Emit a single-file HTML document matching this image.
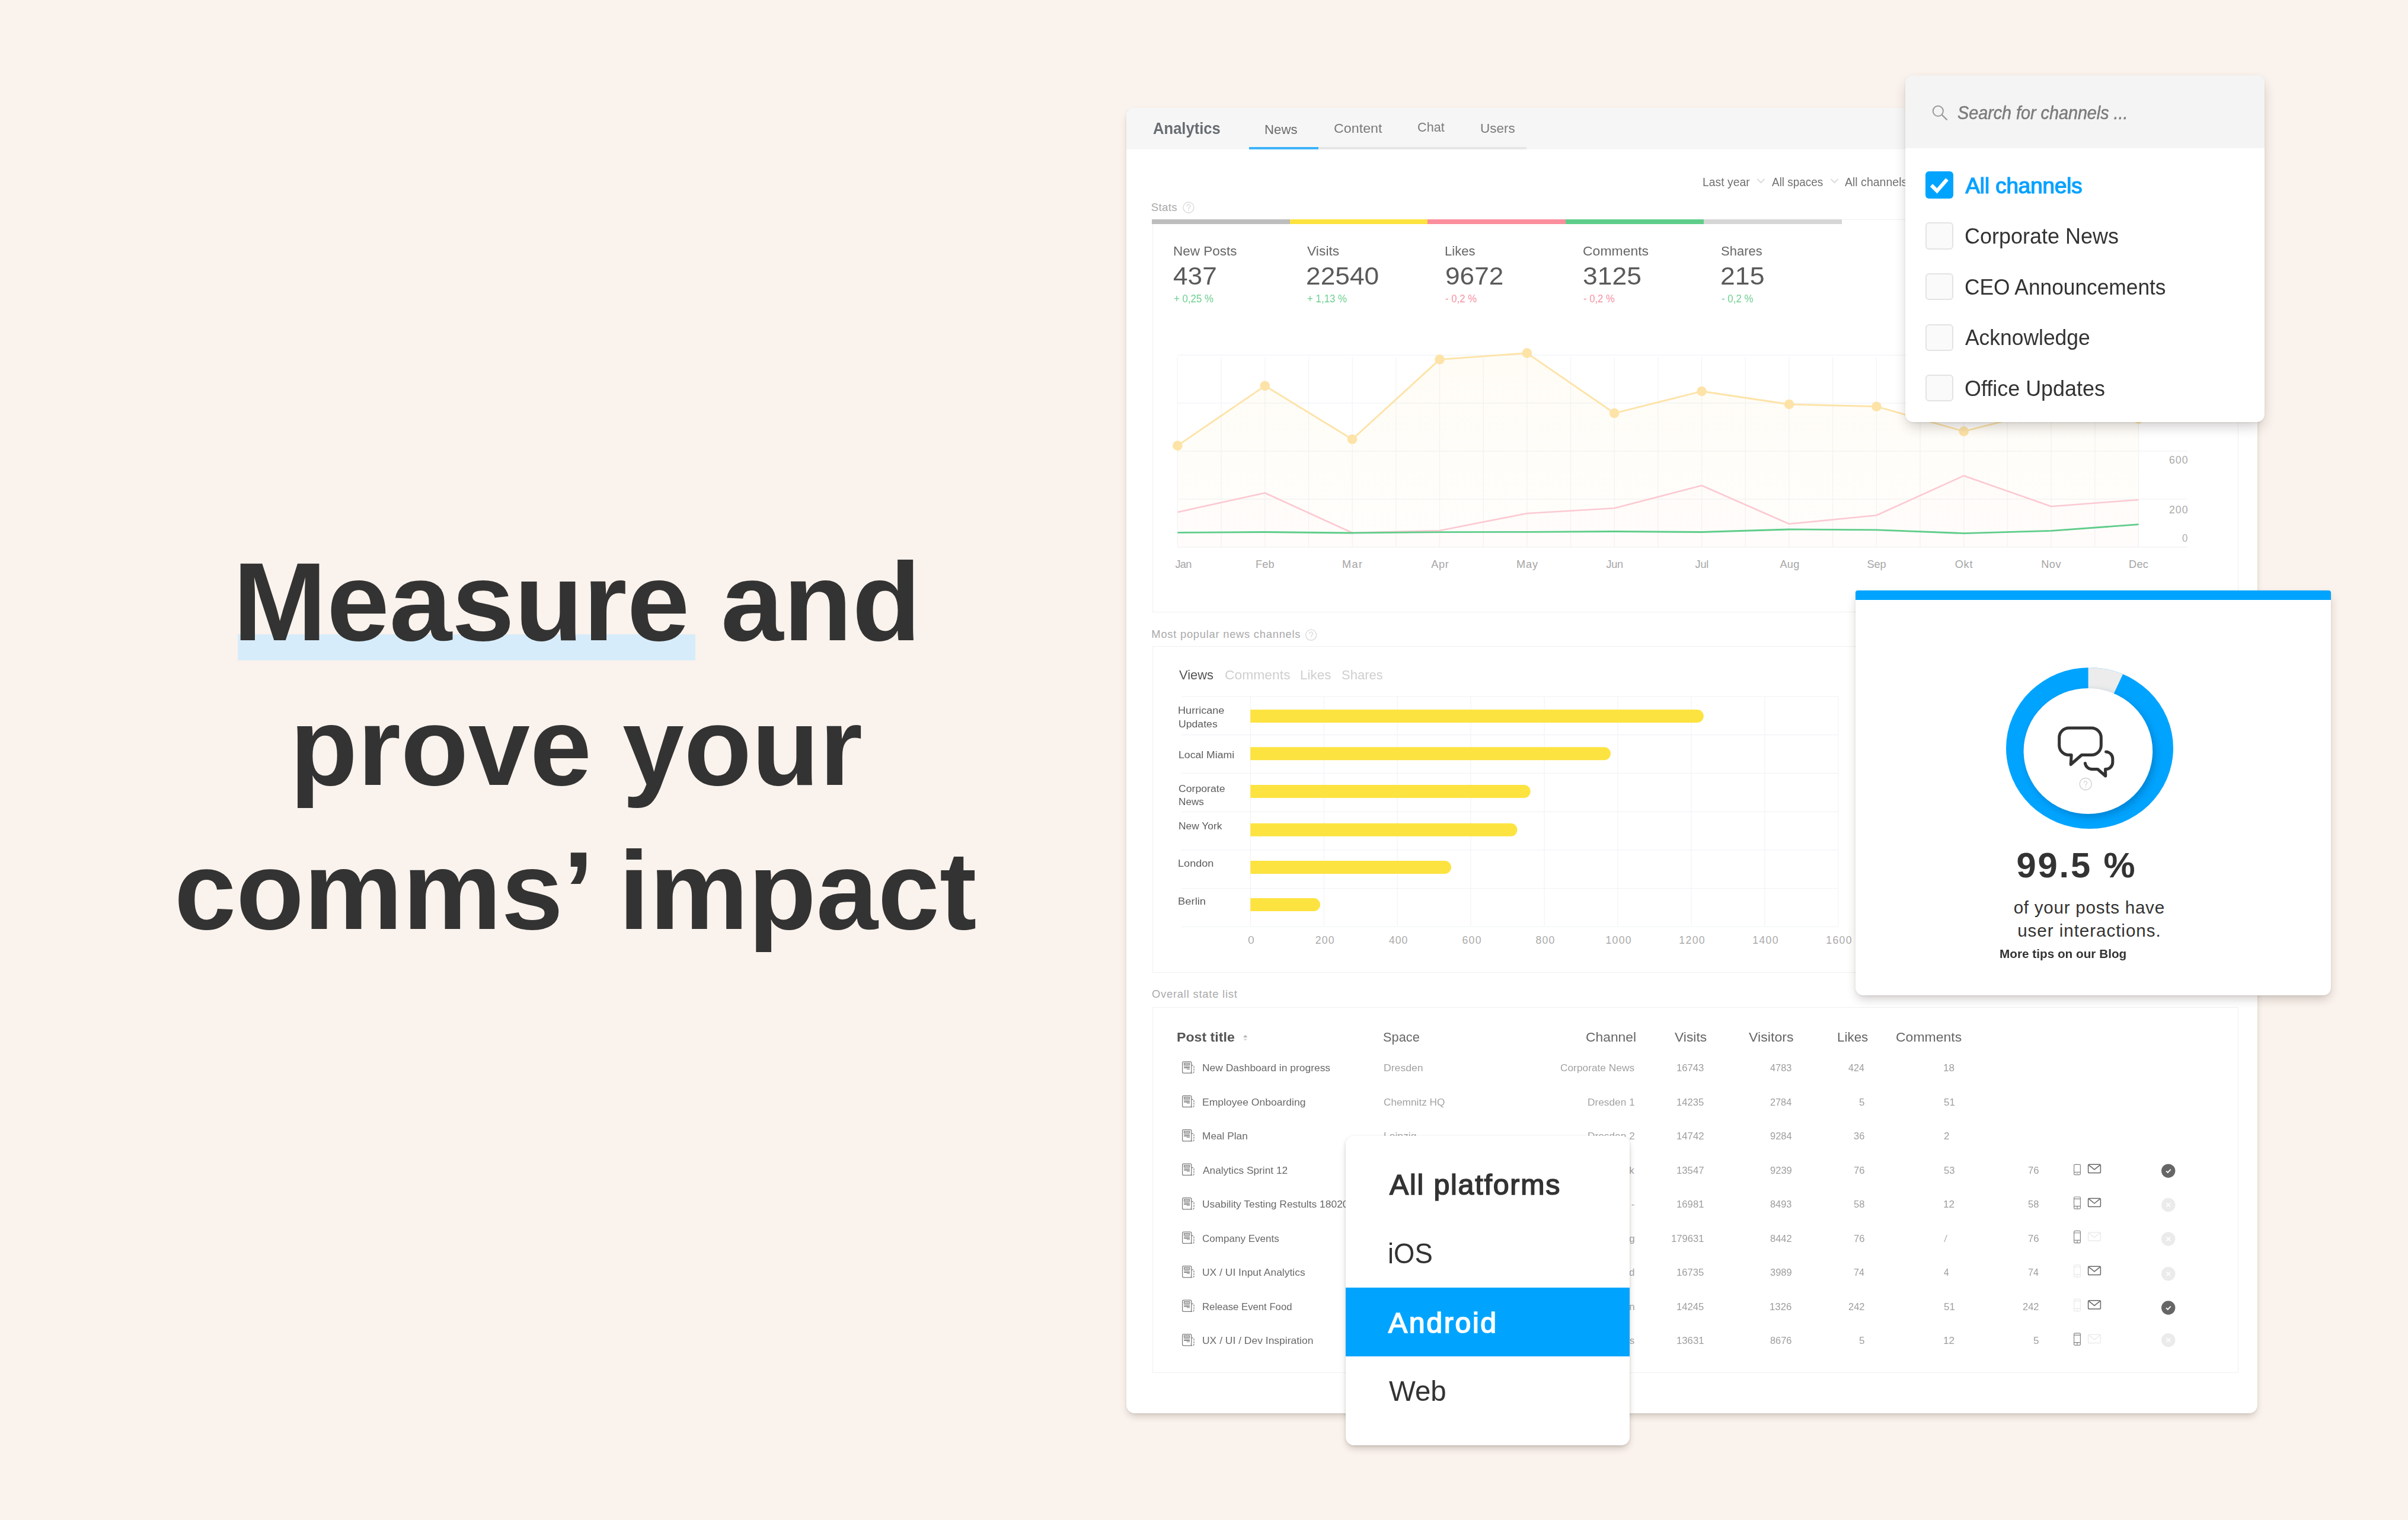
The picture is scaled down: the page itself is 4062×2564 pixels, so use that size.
<!DOCTYPE html>
<html><head><meta charset="utf-8"><title>Analytics</title>
<style>
html,body{margin:0;padding:0;}
body{width:4062px;height:2564px;background:#faf2ec;position:relative;overflow:hidden;font-family:"Liberation Sans",sans-serif;}
.t{position:absolute;white-space:nowrap;line-height:1;transform-origin:0 0;display:block;}
.b{position:absolute;}
.s{position:absolute;left:0;top:0;pointer-events:none;}
.L{position:absolute;left:0;top:0;width:4062px;height:2564px;}
</style></head><body>
<div class="L">
<div class="b" style="left:400.50px;top:1070.40px;width:772.00px;height:43.90px;background:#d7ecfa;"></div>
<span class="t" style="left:393.20px;top:923.00px;font-size:186.84px;color:#333333;transform:scaleX(1.0161);font-weight:700;">Measure and</span><span class="t" style="left:488.84px;top:1167.00px;font-size:186.84px;color:#333333;transform:scaleX(1.0004);font-weight:700;">prove your</span><span class="t" style="left:294.05px;top:1410.00px;font-size:186.84px;color:#333333;transform:scaleX(1.0026);font-weight:700;">comms’ impact</span>
</div>
<div class="L">
<div class="b" style="left:1900.00px;top:182.00px;width:1908.00px;height:2201.50px;background:#fff;border-radius:14px;box-shadow:0 7px 13px -3px rgba(40,30,20,0.22),0 1px 3px rgba(40,30,20,0.08);"></div><div class="b" style="left:1900.00px;top:182.00px;width:1908.00px;height:70.00px;background:#f6f6f6;border-radius:14px 14px 0 0;"></div><div class="b" style="left:2106.60px;top:248.00px;width:468.40px;height:4.00px;background:#e6e6e6;"></div><div class="b" style="left:2106.60px;top:248.00px;width:117.90px;height:4.00px;background:#3db3f8;"></div><div class="b" style="left:1943.50px;top:370.00px;width:1832.00px;height:663.00px;border:1.4px solid #f0f0f0;box-sizing:border-box;"></div><div class="b" style="left:1943.00px;top:370.00px;width:232.70px;height:8.00px;background:#bdbdbd;"></div><div class="b" style="left:2175.70px;top:370.00px;width:232.70px;height:8.00px;background:#fde340;"></div><div class="b" style="left:2408.40px;top:370.00px;width:232.60px;height:8.00px;background:#fb8e9d;"></div><div class="b" style="left:2641.00px;top:370.00px;width:232.80px;height:8.00px;background:#5fcd8a;"></div><div class="b" style="left:2873.80px;top:370.00px;width:233.20px;height:8.00px;background:#d6d6d6;"></div><div class="b" style="left:1943.50px;top:1090.00px;width:1832.00px;height:551.30px;border:1.4px solid #f0f0f0;box-sizing:border-box;"></div><div class="b" style="left:1943.50px;top:1698.50px;width:1832.00px;height:617.50px;border:1.4px solid #f0f0f0;box-sizing:border-box;"></div>
<svg class="s" width="4062" height="2564" viewBox="0 0 4062 2564"><circle cx="2005" cy="350" r="9" fill="none" stroke="#d8d8d8" stroke-width="1.3"/><path d="M2002.40 347.80 a2.7 2.7 0 1 1 3.90 2.20 q-1.3 0.9 -1.3 2.4" transform="" fill="none" stroke="#d8d8d8" stroke-width="1.2" stroke-linecap="round"/><circle cx="2005" cy="354.60" r="0.8" fill="#d8d8d8"/><circle cx="2211.6" cy="1071.2" r="9" fill="none" stroke="#d8d8d8" stroke-width="1.3"/><path d="M2209.00 1069.00 a2.7 2.7 0 1 1 3.90 2.20 q-1.3 0.9 -1.3 2.4" transform="" fill="none" stroke="#d8d8d8" stroke-width="1.2" stroke-linecap="round"/><circle cx="2211.6" cy="1075.80" r="0.8" fill="#d8d8d8"/><path d="M2964.5 302 L2970.5 308 L2976.5 302" fill="none" stroke="#dcdcdc" stroke-width="2"/><path d="M3088.5 302 L3094.5 308 L3100.5 302" fill="none" stroke="#dcdcdc" stroke-width="2"/><line x1="1986.4" y1="599" x2="3689.7" y2="599" stroke="#f3f4f7" stroke-width="1.3"/><line x1="1986.4" y1="680" x2="3689.7" y2="680" stroke="#f3f4f7" stroke-width="1.3"/><line x1="1986.4" y1="761" x2="3689.7" y2="761" stroke="#f3f4f7" stroke-width="1.3"/><line x1="1986.4" y1="842" x2="3689.7" y2="842" stroke="#f3f4f7" stroke-width="1.3"/><line x1="1986.4" y1="923" x2="3689.7" y2="923" stroke="#f3f4f7" stroke-width="1.3"/><line x1="1986.40" y1="603" x2="1986.40" y2="923" stroke="#f3f4f7" stroke-width="1.3"/><line x1="2060.09" y1="603" x2="2060.09" y2="923" stroke="#f3f4f7" stroke-width="1.3"/><line x1="2133.77" y1="603" x2="2133.77" y2="923" stroke="#f3f4f7" stroke-width="1.3"/><line x1="2207.45" y1="603" x2="2207.45" y2="923" stroke="#f3f4f7" stroke-width="1.3"/><line x1="2281.14" y1="603" x2="2281.14" y2="923" stroke="#f3f4f7" stroke-width="1.3"/><line x1="2354.83" y1="603" x2="2354.83" y2="923" stroke="#f3f4f7" stroke-width="1.3"/><line x1="2428.51" y1="603" x2="2428.51" y2="923" stroke="#f3f4f7" stroke-width="1.3"/><line x1="2502.20" y1="603" x2="2502.20" y2="923" stroke="#f3f4f7" stroke-width="1.3"/><line x1="2575.88" y1="603" x2="2575.88" y2="923" stroke="#f3f4f7" stroke-width="1.3"/><line x1="2649.57" y1="603" x2="2649.57" y2="923" stroke="#f3f4f7" stroke-width="1.3"/><line x1="2723.25" y1="603" x2="2723.25" y2="923" stroke="#f3f4f7" stroke-width="1.3"/><line x1="2796.94" y1="603" x2="2796.94" y2="923" stroke="#f3f4f7" stroke-width="1.3"/><line x1="2870.62" y1="603" x2="2870.62" y2="923" stroke="#f3f4f7" stroke-width="1.3"/><line x1="2944.31" y1="603" x2="2944.31" y2="923" stroke="#f3f4f7" stroke-width="1.3"/><line x1="3017.99" y1="603" x2="3017.99" y2="923" stroke="#f3f4f7" stroke-width="1.3"/><line x1="3091.68" y1="603" x2="3091.68" y2="923" stroke="#f3f4f7" stroke-width="1.3"/><line x1="3165.36" y1="603" x2="3165.36" y2="923" stroke="#f3f4f7" stroke-width="1.3"/><line x1="3239.05" y1="603" x2="3239.05" y2="923" stroke="#f3f4f7" stroke-width="1.3"/><line x1="3312.73" y1="603" x2="3312.73" y2="923" stroke="#f3f4f7" stroke-width="1.3"/><line x1="3386.41" y1="603" x2="3386.41" y2="923" stroke="#f3f4f7" stroke-width="1.3"/><line x1="3460.10" y1="603" x2="3460.10" y2="923" stroke="#f3f4f7" stroke-width="1.3"/><line x1="3533.78" y1="603" x2="3533.78" y2="923" stroke="#f3f4f7" stroke-width="1.3"/><line x1="3607.47" y1="603" x2="3607.47" y2="923" stroke="#f3f4f7" stroke-width="1.3"/><defs><linearGradient id="yg" gradientUnits="userSpaceOnUse" x1="0" y1="595" x2="0" y2="923"><stop offset="0" stop-color="#fde3a7" stop-opacity="0.11"/><stop offset="1" stop-color="#fde3a7" stop-opacity="0.035"/></linearGradient></defs><polygon points="1986.4,751.7 2133.8,650.8 2281.1,741 2428.5,606.4 2575.9,595.6 2723.2,697 2870.6,660 3018.0,682 3165.4,685.7 3312.7,727.6 3460.1,690 3607.5,706.5 3607.5,923 1986.4,923" fill="url(#yg)"/><polygon points="1986.4,863.9 2133.8,831.5 2281.1,898.7 2428.5,895 2575.9,866 2723.2,857.2 2870.6,819 3018.0,883.8 3165.4,869.3 3312.7,802.4 3460.1,854.3 3607.5,843 3607.5,923 1986.4,923" fill="#fcc9d1" fill-opacity="0.03"/><polygon points="1986.4,898.3 2133.8,897.5 2281.1,899 2428.5,897.6 2575.9,897.3 2723.2,896.5 2870.6,897.5 3018.0,893 3165.4,893.8 3312.7,899.6 3460.1,895.4 3607.5,884.6 3607.5,923 1986.4,923" fill="#5fcd8a" fill-opacity="0.0"/><polyline points="1986.4,751.7 2133.8,650.8 2281.1,741 2428.5,606.4 2575.9,595.6 2723.2,697 2870.6,660 3018.0,682 3165.4,685.7 3312.7,727.6 3460.1,690 3607.5,706.5" fill="none" stroke="#fde3a7" stroke-width="2.8" stroke-linejoin="round"/><circle cx="1986.4" cy="751.7" r="8.3" fill="#fde3a7"/><circle cx="2133.8" cy="650.8" r="8.3" fill="#fde3a7"/><circle cx="2281.1" cy="741" r="8.3" fill="#fde3a7"/><circle cx="2428.5" cy="606.4" r="8.3" fill="#fde3a7"/><circle cx="2575.9" cy="595.6" r="8.3" fill="#fde3a7"/><circle cx="2723.2" cy="697" r="8.3" fill="#fde3a7"/><circle cx="2870.6" cy="660" r="8.3" fill="#fde3a7"/><circle cx="3018.0" cy="682" r="8.3" fill="#fde3a7"/><circle cx="3165.4" cy="685.7" r="8.3" fill="#fde3a7"/><circle cx="3312.7" cy="727.6" r="8.3" fill="#fde3a7"/><circle cx="3460.1" cy="690" r="8.3" fill="#fde3a7"/><circle cx="3607.5" cy="706.5" r="8.3" fill="#fde3a7"/><polyline points="1986.4,863.9 2133.8,831.5 2281.1,898.7 2428.5,895 2575.9,866 2723.2,857.2 2870.6,819 3018.0,883.8 3165.4,869.3 3312.7,802.4 3460.1,854.3 3607.5,843" fill="none" stroke="#fcc9d1" stroke-width="2.6" stroke-linejoin="round"/><polyline points="1986.4,898.3 2133.8,897.5 2281.1,899 2428.5,897.6 2575.9,897.3 2723.2,896.5 2870.6,897.5 3018.0,893 3165.4,893.8 3312.7,899.6 3460.1,895.4 3607.5,884.6" fill="none" stroke="#5fcd8a" stroke-width="2.8" stroke-linejoin="round"/><line x1="1993" y1="1174.9" x2="3101" y2="1174.9" stroke="#f3f4f7" stroke-width="1.3"/><line x1="1993" y1="1239.5" x2="3101" y2="1239.5" stroke="#f3f4f7" stroke-width="1.3"/><line x1="1993" y1="1304.4" x2="3101" y2="1304.4" stroke="#f3f4f7" stroke-width="1.3"/><line x1="1993" y1="1369.2" x2="3101" y2="1369.2" stroke="#f3f4f7" stroke-width="1.3"/><line x1="1993" y1="1433.8" x2="3101" y2="1433.8" stroke="#f3f4f7" stroke-width="1.3"/><line x1="1993" y1="1498.6" x2="3101" y2="1498.6" stroke="#f3f4f7" stroke-width="1.3"/><line x1="1993" y1="1563.4" x2="3101" y2="1563.4" stroke="#f3f4f7" stroke-width="1.3"/><line x1="2109.30" y1="1174.9" x2="2109.30" y2="1562" stroke="#f3f4f7" stroke-width="1.3"/><line x1="2233.25" y1="1174.9" x2="2233.25" y2="1562" stroke="#f3f4f7" stroke-width="1.3"/><line x1="2357.20" y1="1174.9" x2="2357.20" y2="1562" stroke="#f3f4f7" stroke-width="1.3"/><line x1="2481.15" y1="1174.9" x2="2481.15" y2="1562" stroke="#f3f4f7" stroke-width="1.3"/><line x1="2605.10" y1="1174.9" x2="2605.10" y2="1562" stroke="#f3f4f7" stroke-width="1.3"/><line x1="2729.05" y1="1174.9" x2="2729.05" y2="1562" stroke="#f3f4f7" stroke-width="1.3"/><line x1="2853.00" y1="1174.9" x2="2853.00" y2="1562" stroke="#f3f4f7" stroke-width="1.3"/><line x1="2976.95" y1="1174.9" x2="2976.95" y2="1562" stroke="#f3f4f7" stroke-width="1.3"/><line x1="3100.90" y1="1174.9" x2="3100.90" y2="1562" stroke="#f3f4f7" stroke-width="1.3"/><path d="M2109.3 1197 H2862.8 a11 11 0 0 1 0 22 H2109.3 Z" fill="#fde340"/><path d="M2109.3 1260.3 H2706 a11 11 0 0 1 0 22 H2109.3 Z" fill="#fde340"/><path d="M2109.3 1324 H2570.7 a11 11 0 0 1 0 22 H2109.3 Z" fill="#fde340"/><path d="M2109.3 1388.8 H2548.5 a11 11 0 0 1 0 22 H2109.3 Z" fill="#fde340"/><path d="M2109.3 1452 H2437 a11 11 0 0 1 0 22 H2109.3 Z" fill="#fde340"/><path d="M2109.3 1515 H2216 a11 11 0 0 1 0 22 H2109.3 Z" fill="#fde340"/><path d="M2097 1749.8 L2100.7 1746 L2104.4 1749.8 Z" fill="#a9a9a9"/><path d="M2097 1752 L2100.7 1755.8 L2104.4 1752 Z" fill="#dddddd"/><g fill="none" stroke="#7d7d7d" stroke-width="1.25"><rect x="1994.6" y="1790.80" width="15.2" height="19.2" rx="2"/><path d="M2009.8 1797.10 h2.2 a2 2 0 0 1 2 2 v8.9 a2 2 0 0 1 -2 2 h-3" stroke-dasharray="3 1.4"/><rect x="1997.4" y="1793.20" width="9.4" height="3.2" fill="#cfcfcf" stroke-width="1"/><path d="M1997.2 1798.50 h9.8" stroke-width="1"/><path d="M1997.2 1801.10 h9.8" stroke-width="1.9"/><path d="M2001.8 1803.50 h5.2" stroke-width="1"/></g><g fill="none" stroke="#7d7d7d" stroke-width="1.25"><rect x="1994.6" y="1848.27" width="15.2" height="19.2" rx="2"/><path d="M2009.8 1854.57 h2.2 a2 2 0 0 1 2 2 v8.9 a2 2 0 0 1 -2 2 h-3" stroke-dasharray="3 1.4"/><rect x="1997.4" y="1850.67" width="9.4" height="3.2" fill="#cfcfcf" stroke-width="1"/><path d="M1997.2 1855.97 h9.8" stroke-width="1"/><path d="M1997.2 1858.57 h9.8" stroke-width="1.9"/><path d="M2001.8 1860.97 h5.2" stroke-width="1"/></g><g fill="none" stroke="#7d7d7d" stroke-width="1.25"><rect x="1994.6" y="1905.74" width="15.2" height="19.2" rx="2"/><path d="M2009.8 1912.04 h2.2 a2 2 0 0 1 2 2 v8.9 a2 2 0 0 1 -2 2 h-3" stroke-dasharray="3 1.4"/><rect x="1997.4" y="1908.14" width="9.4" height="3.2" fill="#cfcfcf" stroke-width="1"/><path d="M1997.2 1913.44 h9.8" stroke-width="1"/><path d="M1997.2 1916.04 h9.8" stroke-width="1.9"/><path d="M2001.8 1918.44 h5.2" stroke-width="1"/></g><g fill="none" stroke="#7d7d7d" stroke-width="1.25"><rect x="1994.6" y="1963.21" width="15.2" height="19.2" rx="2"/><path d="M2009.8 1969.51 h2.2 a2 2 0 0 1 2 2 v8.9 a2 2 0 0 1 -2 2 h-3" stroke-dasharray="3 1.4"/><rect x="1997.4" y="1965.61" width="9.4" height="3.2" fill="#cfcfcf" stroke-width="1"/><path d="M1997.2 1970.91 h9.8" stroke-width="1"/><path d="M1997.2 1973.51 h9.8" stroke-width="1.9"/><path d="M2001.8 1975.91 h5.2" stroke-width="1"/></g><g fill="none" stroke="#7d7d7d" stroke-width="1.25"><rect x="1994.6" y="2020.68" width="15.2" height="19.2" rx="2"/><path d="M2009.8 2026.98 h2.2 a2 2 0 0 1 2 2 v8.9 a2 2 0 0 1 -2 2 h-3" stroke-dasharray="3 1.4"/><rect x="1997.4" y="2023.08" width="9.4" height="3.2" fill="#cfcfcf" stroke-width="1"/><path d="M1997.2 2028.38 h9.8" stroke-width="1"/><path d="M1997.2 2030.98 h9.8" stroke-width="1.9"/><path d="M2001.8 2033.38 h5.2" stroke-width="1"/></g><g fill="none" stroke="#7d7d7d" stroke-width="1.25"><rect x="1994.6" y="2078.15" width="15.2" height="19.2" rx="2"/><path d="M2009.8 2084.45 h2.2 a2 2 0 0 1 2 2 v8.9 a2 2 0 0 1 -2 2 h-3" stroke-dasharray="3 1.4"/><rect x="1997.4" y="2080.55" width="9.4" height="3.2" fill="#cfcfcf" stroke-width="1"/><path d="M1997.2 2085.85 h9.8" stroke-width="1"/><path d="M1997.2 2088.45 h9.8" stroke-width="1.9"/><path d="M2001.8 2090.85 h5.2" stroke-width="1"/></g><g fill="none" stroke="#7d7d7d" stroke-width="1.25"><rect x="1994.6" y="2135.62" width="15.2" height="19.2" rx="2"/><path d="M2009.8 2141.92 h2.2 a2 2 0 0 1 2 2 v8.9 a2 2 0 0 1 -2 2 h-3" stroke-dasharray="3 1.4"/><rect x="1997.4" y="2138.02" width="9.4" height="3.2" fill="#cfcfcf" stroke-width="1"/><path d="M1997.2 2143.32 h9.8" stroke-width="1"/><path d="M1997.2 2145.92 h9.8" stroke-width="1.9"/><path d="M2001.8 2148.32 h5.2" stroke-width="1"/></g><g fill="none" stroke="#7d7d7d" stroke-width="1.25"><rect x="1994.6" y="2193.09" width="15.2" height="19.2" rx="2"/><path d="M2009.8 2199.39 h2.2 a2 2 0 0 1 2 2 v8.9 a2 2 0 0 1 -2 2 h-3" stroke-dasharray="3 1.4"/><rect x="1997.4" y="2195.49" width="9.4" height="3.2" fill="#cfcfcf" stroke-width="1"/><path d="M1997.2 2200.79 h9.8" stroke-width="1"/><path d="M1997.2 2203.39 h9.8" stroke-width="1.9"/><path d="M2001.8 2205.79 h5.2" stroke-width="1"/></g><g fill="none" stroke="#7d7d7d" stroke-width="1.25"><rect x="1994.6" y="2250.56" width="15.2" height="19.2" rx="2"/><path d="M2009.8 2256.86 h2.2 a2 2 0 0 1 2 2 v8.9 a2 2 0 0 1 -2 2 h-3" stroke-dasharray="3 1.4"/><rect x="1997.4" y="2252.96" width="9.4" height="3.2" fill="#cfcfcf" stroke-width="1"/><path d="M1997.2 2258.26 h9.8" stroke-width="1"/><path d="M1997.2 2260.86 h9.8" stroke-width="1.9"/><path d="M2001.8 2263.26 h5.2" stroke-width="1"/></g><g fill="none" stroke="#858585" stroke-width="1.2"><rect x="3498.6" y="1964.30" width="10.8" height="17.4" rx="1.6"/><path d="M3498.6 1977.30 h10.8"/><path d="M3503.2 1979.50 h1.6"/></g><g fill="none" stroke="#666666" stroke-width="1.5" stroke-linejoin="round"><rect x="3522.6" y="1964.30" width="20.8" height="14.2" rx="1.8"/><path d="M3523.4 1965.10 L3533 1972.90 L3542.6 1965.10"/></g><circle cx="3657.7" cy="1975.1" r="11.7" fill="#666666"/><path d="M3654.1 1975.3999999999999 L3656.7999999999997 1978.0 L3661.7 1972.6999999999998" fill="none" stroke="#fff" stroke-width="1.9"/><g fill="none" stroke="#858585" stroke-width="1.2"><rect x="3498.6" y="2018.98" width="10.8" height="20.2" rx="1.6"/><path d="M3498.6 2022.28 h10.8 M3498.6 2034.68 h10.8 M3504 2034.88 v3.6"/></g><g fill="none" stroke="#666666" stroke-width="1.5" stroke-linejoin="round"><rect x="3522.6" y="2021.38" width="20.8" height="14.2" rx="1.8"/><path d="M3523.4 2022.18 L3533 2029.98 L3542.6 2022.18"/></g><circle cx="3657.7" cy="2032.4" r="11.7" fill="#ebebeb"/><path d="M3654.2999999999997 2029.0 L3661.1 2035.8000000000002 M3661.1 2029.0 L3654.2999999999997 2035.8000000000002" fill="none" stroke="#fff" stroke-width="1.6"/><g fill="none" stroke="#858585" stroke-width="1.2"><rect x="3498.6" y="2076.45" width="10.8" height="20.2" rx="1.6"/><path d="M3498.6 2079.75 h10.8 M3498.6 2092.15 h10.8 M3504 2092.35 v3.6"/></g><g fill="none" stroke="#ececec" stroke-width="1.5" stroke-linejoin="round"><rect x="3522.6" y="2078.85" width="20.8" height="14.2" rx="1.8"/><path d="M3523.4 2079.65 L3533 2087.45 L3542.6 2079.65"/></g><circle cx="3657.7" cy="2090" r="11.7" fill="#ebebeb"/><path d="M3654.2999999999997 2086.6 L3661.1 2093.4 M3661.1 2086.6 L3654.2999999999997 2093.4" fill="none" stroke="#fff" stroke-width="1.6"/><g fill="none" stroke="#e9e9e9" stroke-width="1.2"><rect x="3498.6" y="2133.92" width="10.8" height="20.2" rx="1.6"/><path d="M3498.6 2137.22 h10.8 M3498.6 2149.62 h10.8 M3504 2149.82 v3.6"/></g><g fill="none" stroke="#666666" stroke-width="1.5" stroke-linejoin="round"><rect x="3522.6" y="2136.32" width="20.8" height="14.2" rx="1.8"/><path d="M3523.4 2137.12 L3533 2144.92 L3542.6 2137.12"/></g><circle cx="3657.7" cy="2148.8" r="11.7" fill="#ebebeb"/><path d="M3654.2999999999997 2145.4 L3661.1 2152.2000000000003 M3661.1 2145.4 L3654.2999999999997 2152.2000000000003" fill="none" stroke="#fff" stroke-width="1.6"/><g fill="none" stroke="#e9e9e9" stroke-width="1.2"><rect x="3498.6" y="2191.39" width="10.8" height="20.2" rx="1.6"/><path d="M3498.6 2194.69 h10.8 M3498.6 2207.09 h10.8 M3504 2207.29 v3.6"/></g><g fill="none" stroke="#666666" stroke-width="1.5" stroke-linejoin="round"><rect x="3522.6" y="2193.79" width="20.8" height="14.2" rx="1.8"/><path d="M3523.4 2194.59 L3533 2202.39 L3542.6 2194.59"/></g><circle cx="3657.7" cy="2206" r="11.7" fill="#666666"/><path d="M3654.1 2206.3 L3656.7999999999997 2208.9 L3661.7 2203.6" fill="none" stroke="#fff" stroke-width="1.9"/><g fill="none" stroke="#858585" stroke-width="1.2"><rect x="3498.6" y="2248.86" width="10.8" height="20.2" rx="1.6"/><path d="M3498.6 2252.16 h10.8 M3498.6 2264.56 h10.8 M3504 2264.76 v3.6"/></g><g fill="none" stroke="#ececec" stroke-width="1.5" stroke-linejoin="round"><rect x="3522.6" y="2251.26" width="20.8" height="14.2" rx="1.8"/><path d="M3523.4 2252.06 L3533 2259.86 L3542.6 2252.06"/></g><circle cx="3657.7" cy="2260.6" r="11.7" fill="#ebebeb"/><path d="M3654.2999999999997 2257.2 L3661.1 2264.0 M3661.1 2257.2 L3654.2999999999997 2264.0" fill="none" stroke="#fff" stroke-width="1.6"/></svg>
<span class="t" style="left:1945.23px;top:203.00px;font-size:27.61px;color:#686d73;transform:scaleX(0.9273);font-weight:700;">Analytics</span><span class="t" style="left:2133.21px;top:207.00px;font-size:22.84px;color:#6b6b6b;transform:scaleX(0.9740);">News</span><span class="t" style="left:2249.71px;top:205.00px;font-size:22.84px;color:#7a7a7a;transform:scaleX(1.0194);">Content</span><span class="t" style="left:2390.67px;top:203.00px;font-size:22.84px;color:#7a7a7a;transform:scaleX(0.9497);">Chat</span><span class="t" style="left:2496.85px;top:205.00px;font-size:22.84px;color:#7a7a7a;transform:scaleX(0.9856);">Users</span><span class="t" style="left:2872.39px;top:297.00px;font-size:20.24px;color:#707070;transform:scaleX(0.9576);">Last year</span><span class="t" style="left:2989.28px;top:297.00px;font-size:20.24px;color:#707070;transform:scaleX(0.9357);">All spaces</span><span class="t" style="left:3112.18px;top:297.00px;font-size:20.24px;color:#707070;transform:scaleX(0.9649);">All channels</span><span class="t" style="left:1941.79px;top:341.00px;font-size:18.68px;color:#aaaaaa;transform:scaleX(1.0000);letter-spacing:0.33px;">Stats</span><span class="t" style="left:1978.50px;top:413.00px;font-size:22.32px;color:#666666;transform:scaleX(1.0092);">New Posts</span><span class="t" style="left:2204.62px;top:413.00px;font-size:22.32px;color:#666666;transform:scaleX(1.0256);">Visits</span><span class="t" style="left:2437.03px;top:413.00px;font-size:22.32px;color:#666666;transform:scaleX(0.9912);">Likes</span><span class="t" style="left:2670.03px;top:413.00px;font-size:22.32px;color:#666666;transform:scaleX(1.0300);">Comments</span><span class="t" style="left:2902.63px;top:413.00px;font-size:22.32px;color:#666666;transform:scaleX(0.9862);">Shares</span><span class="t" style="left:1979.39px;top:444.00px;font-size:43.18px;color:#5a5a5a;transform:scaleX(1.0248);">437</span><span class="t" style="left:2203.30px;top:444.00px;font-size:43.18px;color:#5a5a5a;transform:scaleX(1.0268);">22540</span><span class="t" style="left:2437.57px;top:444.00px;font-size:43.18px;color:#5a5a5a;transform:scaleX(1.0233);">9672</span><span class="t" style="left:2669.73px;top:444.00px;font-size:43.18px;color:#5a5a5a;transform:scaleX(1.0301);">3125</span><span class="t" style="left:2902.28px;top:444.00px;font-size:43.18px;color:#5a5a5a;transform:scaleX(1.0345);">215</span><span class="t" style="left:1979.51px;top:495.00px;font-size:18.16px;color:#6bcf8e;transform:scaleX(0.9294);">+ 0,25 %</span><span class="t" style="left:2204.81px;top:495.00px;font-size:18.16px;color:#6bcf8e;transform:scaleX(0.9299);">+ 1,13 %</span><span class="t" style="left:2438.05px;top:495.00px;font-size:18.16px;color:#f58ea0;transform:scaleX(0.9215);">- 0,2 %</span><span class="t" style="left:2670.75px;top:495.00px;font-size:18.16px;color:#f58ea0;transform:scaleX(0.9174);">- 0,2 %</span><span class="t" style="left:2904.25px;top:495.00px;font-size:18.16px;color:#6bcf8e;transform:scaleX(0.9298);">- 0,2 %</span><span class="t" style="left:1982.47px;top:943.00px;font-size:18.16px;color:#a6a6a6;transform:scaleX(1.0000);letter-spacing:-0.75px;">Jan</span><span class="t" style="left:2117.99px;top:943.00px;font-size:18.16px;color:#a6a6a6;transform:scaleX(1.0000);letter-spacing:0.11px;">Feb</span><span class="t" style="left:2263.99px;top:943.00px;font-size:18.16px;color:#a6a6a6;transform:scaleX(1.0000);letter-spacing:1.40px;">Mar</span><span class="t" style="left:2414.18px;top:943.00px;font-size:18.16px;color:#a6a6a6;transform:scaleX(1.0000);letter-spacing:0.67px;">Apr</span><span class="t" style="left:2557.99px;top:943.00px;font-size:18.16px;color:#a6a6a6;transform:scaleX(1.0000);letter-spacing:0.85px;">May</span><span class="t" style="left:2709.47px;top:943.00px;font-size:18.16px;color:#a6a6a6;transform:scaleX(1.0000);letter-spacing:-0.36px;">Jun</span><span class="t" style="left:2859.47px;top:943.00px;font-size:18.16px;color:#a6a6a6;transform:scaleX(1.0000);letter-spacing:-0.16px;">Jul</span><span class="t" style="left:3002.51px;top:943.00px;font-size:18.16px;color:#a6a6a6;transform:scaleX(1.0000);letter-spacing:0.25px;">Aug</span><span class="t" style="left:3149.47px;top:943.00px;font-size:18.16px;color:#a6a6a6;transform:scaleX(1.0000);letter-spacing:-0.08px;">Sep</span><span class="t" style="left:3297.68px;top:943.00px;font-size:18.16px;color:#a6a6a6;transform:scaleX(1.0000);letter-spacing:0.83px;">Okt</span><span class="t" style="left:3443.18px;top:943.00px;font-size:18.16px;color:#a6a6a6;transform:scaleX(1.0000);letter-spacing:0.57px;">Nov</span><span class="t" style="left:3591.02px;top:943.00px;font-size:18.16px;color:#a6a6a6;transform:scaleX(1.0000);letter-spacing:0.28px;">Dec</span><span class="t" style="left:3658.97px;top:768.00px;font-size:17.65px;color:#aaaaaa;transform:scaleX(1.0000);letter-spacing:1.03px;">600</span><span class="t" style="left:3658.97px;top:852.00px;font-size:17.65px;color:#aaaaaa;transform:scaleX(1.0000);letter-spacing:1.03px;">200</span><span class="t" style="left:3680.71px;top:900.00px;font-size:17.65px;color:#aaaaaa;transform:scaleX(0.9630);">0</span><span class="t" style="left:1942.37px;top:1061.00px;font-size:18.37px;color:#aaaaaa;transform:scaleX(1.0000);letter-spacing:0.74px;">Most popular news channels</span><span class="t" style="left:1988.64px;top:1127.00px;font-size:22.84px;color:#555555;transform:scaleX(0.9598);">Views</span><span class="t" style="left:2065.86px;top:1127.00px;font-size:22.84px;color:#cfcfcf;transform:scaleX(1.0020);">Comments</span><span class="t" style="left:2193.20px;top:1127.00px;font-size:22.84px;color:#cfcfcf;transform:scaleX(0.9862);">Likes</span><span class="t" style="left:2262.73px;top:1127.00px;font-size:22.84px;color:#cfcfcf;transform:scaleX(0.9662);">Shares</span><span class="t" style="left:1987.49px;top:1191.00px;font-size:16.82px;color:#5c5c5c;transform:scaleX(1.0760);">Hurricane</span><span class="t" style="left:1987.59px;top:1214.00px;font-size:16.82px;color:#5c5c5c;transform:scaleX(1.0492);">Updates</span><span class="t" style="left:1987.52px;top:1266.00px;font-size:16.82px;color:#5c5c5c;transform:scaleX(1.0499);">Local Miami</span><span class="t" style="left:1988.15px;top:1323.00px;font-size:16.82px;color:#5c5c5c;transform:scaleX(1.0508);">Corporate</span><span class="t" style="left:1987.55px;top:1345.00px;font-size:16.82px;color:#5c5c5c;transform:scaleX(1.0200);">News</span><span class="t" style="left:1987.53px;top:1386.00px;font-size:16.82px;color:#5c5c5c;transform:scaleX(1.0345);">New York</span><span class="t" style="left:1987.49px;top:1449.00px;font-size:16.82px;color:#5c5c5c;transform:scaleX(1.0772);">London</span><span class="t" style="left:1987.47px;top:1513.00px;font-size:16.82px;color:#5c5c5c;transform:scaleX(1.0943);">Berlin</span><span class="t" style="left:2105.29px;top:1578.00px;font-size:17.65px;color:#aaaaaa;transform:scaleX(1.1090);">0</span><span class="t" style="left:2218.67px;top:1578.00px;font-size:17.65px;color:#aaaaaa;transform:scaleX(1.0000);letter-spacing:1.25px;">200</span><span class="t" style="left:2343.00px;top:1578.00px;font-size:17.65px;color:#aaaaaa;transform:scaleX(1.0000);letter-spacing:0.94px;">400</span><span class="t" style="left:2466.57px;top:1578.00px;font-size:17.65px;color:#aaaaaa;transform:scaleX(1.0000);letter-spacing:1.25px;">600</span><span class="t" style="left:2590.58px;top:1578.00px;font-size:17.65px;color:#aaaaaa;transform:scaleX(1.0000);letter-spacing:1.18px;">800</span><span class="t" style="left:2708.41px;top:1578.00px;font-size:17.65px;color:#aaaaaa;transform:scaleX(1.0000);letter-spacing:1.33px;">1000</span><span class="t" style="left:2832.36px;top:1578.00px;font-size:17.65px;color:#aaaaaa;transform:scaleX(1.0000);letter-spacing:1.33px;">1200</span><span class="t" style="left:2956.31px;top:1578.00px;font-size:17.65px;color:#aaaaaa;transform:scaleX(1.0000);letter-spacing:1.33px;">1400</span><span class="t" style="left:3080.26px;top:1578.00px;font-size:17.65px;color:#aaaaaa;transform:scaleX(1.0000);letter-spacing:1.33px;">1600</span><span class="t" style="left:1942.97px;top:1668.00px;font-size:18.37px;color:#aaaaaa;transform:scaleX(1.0000);letter-spacing:0.78px;">Overall state list</span><span class="t" style="left:1984.82px;top:1738.00px;font-size:22.84px;color:#555555;transform:scaleX(1.0145);font-weight:700;">Post title</span><span class="t" style="left:2333.23px;top:1738.00px;font-size:22.84px;color:#666666;transform:scaleX(0.9540);">Space</span><span class="t" style="left:2674.66px;top:1738.00px;font-size:22.84px;color:#666666;transform:scaleX(1.0002);">Channel</span><span class="t" style="left:2824.62px;top:1738.00px;font-size:22.84px;color:#666666;transform:scaleX(1.0019);">Visits</span><span class="t" style="left:2950.02px;top:1738.00px;font-size:22.84px;color:#666666;transform:scaleX(1.0156);">Visitors</span><span class="t" style="left:3099.11px;top:1738.00px;font-size:22.84px;color:#666666;transform:scaleX(0.9811);">Likes</span><span class="t" style="left:3197.56px;top:1738.00px;font-size:22.84px;color:#666666;transform:scaleX(1.0073);">Comments</span><span class="t" style="left:2027.53px;top:1794.00px;font-size:16.92px;color:#696969;transform:scaleX(1.0312);">New Dashboard in progress</span><span class="t" style="left:2027.52px;top:1852.00px;font-size:16.92px;color:#696969;transform:scaleX(1.0374);">Employee Onboarding</span><span class="t" style="left:2027.53px;top:1909.00px;font-size:16.92px;color:#696969;transform:scaleX(1.0215);">Meal Plan</span><span class="t" style="left:2028.68px;top:1967.00px;font-size:16.92px;color:#696969;transform:scaleX(1.0224);">Analytics Sprint 12</span><span class="t" style="left:2027.61px;top:2024.00px;font-size:16.92px;color:#696969;transform:scaleX(1.0300);">Usability Testing Restults 180209</span><span class="t" style="left:2028.17px;top:2082.00px;font-size:16.92px;color:#696969;transform:scaleX(1.0076);">Company Events</span><span class="t" style="left:2027.61px;top:2139.00px;font-size:16.92px;color:#696969;transform:scaleX(1.0322);">UX / UI Input Analytics</span><span class="t" style="left:2027.58px;top:2197.00px;font-size:16.92px;color:#696969;transform:scaleX(0.9891);">Release Event Food</span><span class="t" style="left:2027.61px;top:2254.00px;font-size:16.92px;color:#696969;transform:scaleX(1.0335);">UX / UI / Dev Inspiration</span><span class="t" style="left:2333.80px;top:1794.00px;font-size:16.92px;color:#a3a3a3;transform:scaleX(1.0430);">Dresden</span><span class="t" style="left:2334.47px;top:1852.00px;font-size:16.92px;color:#a3a3a3;transform:scaleX(1.0195);">Chemnitz HQ</span><span class="t" style="left:2333.83px;top:1909.00px;font-size:16.92px;color:#a3a3a3;transform:scaleX(1.0343);">Leipzig</span><span class="t" style="left:2632.15px;top:1794.00px;font-size:16.92px;color:#a3a3a3;transform:scaleX(1.0237);">Corporate News</span><span class="t" style="left:2677.53px;top:1852.00px;font-size:16.92px;color:#a3a3a3;transform:scaleX(1.0224);">Dresden 1</span><span class="t" style="left:2677.53px;top:1909.00px;font-size:16.92px;color:#a3a3a3;transform:scaleX(1.0226);">Dresden 2</span><span class="t" style="left:2682.47px;top:1967.00px;font-size:16.92px;color:#a3a3a3;transform:scaleX(1.0000);">Feedback</span><span class="t" style="left:2683.15px;top:2024.00px;font-size:16.92px;color:#a3a3a3;transform:scaleX(1.0000);">Dresden -</span><span class="t" style="left:2703.99px;top:2082.00px;font-size:16.92px;color:#a3a3a3;transform:scaleX(1.0000);">Leipzig</span><span class="t" style="left:2691.53px;top:2139.00px;font-size:16.92px;color:#a3a3a3;transform:scaleX(1.0000);">Scotland</span><span class="t" style="left:2714.41px;top:2197.00px;font-size:16.92px;color:#a3a3a3;transform:scaleX(1.0000);">Berlin</span><span class="t" style="left:2714.96px;top:2254.00px;font-size:16.92px;color:#a3a3a3;transform:scaleX(1.0000);">News</span><span class="t" style="left:2827.67px;top:1794.00px;font-size:16.61px;color:#9e9e9e;transform:scaleX(1.0044);">16743</span><span class="t" style="left:2986.38px;top:1794.00px;font-size:16.61px;color:#9e9e9e;transform:scaleX(0.9826);">4783</span><span class="t" style="left:3118.18px;top:1794.00px;font-size:16.61px;color:#9e9e9e;transform:scaleX(0.9695);">424</span><span class="t" style="left:3278.24px;top:1794.00px;font-size:16.61px;color:#9e9e9e;transform:scaleX(1.0303);">18</span><span class="t" style="left:2827.67px;top:1852.00px;font-size:16.61px;color:#9e9e9e;transform:scaleX(1.0031);">14235</span><span class="t" style="left:2986.03px;top:1852.00px;font-size:16.61px;color:#9e9e9e;transform:scaleX(0.9802);">2784</span><span class="t" style="left:3135.92px;top:1852.00px;font-size:16.61px;color:#9e9e9e;transform:scaleX(1.0267);">5</span><span class="t" style="left:3278.72px;top:1852.00px;font-size:16.61px;color:#9e9e9e;transform:scaleX(1.0171);">51</span><span class="t" style="left:2827.67px;top:1909.00px;font-size:16.61px;color:#9e9e9e;transform:scaleX(1.0066);">14742</span><span class="t" style="left:2986.03px;top:1909.00px;font-size:16.61px;color:#9e9e9e;transform:scaleX(0.9906);">9284</span><span class="t" style="left:3126.91px;top:1909.00px;font-size:16.61px;color:#9e9e9e;transform:scaleX(0.9882);">36</span><span class="t" style="left:3278.80px;top:1909.00px;font-size:16.61px;color:#9e9e9e;transform:scaleX(1.0260);">2</span><span class="t" style="left:2827.67px;top:1967.00px;font-size:16.61px;color:#9e9e9e;transform:scaleX(1.0066);">13547</span><span class="t" style="left:2986.03px;top:1967.00px;font-size:16.61px;color:#9e9e9e;transform:scaleX(0.9968);">9239</span><span class="t" style="left:3126.90px;top:1967.00px;font-size:16.61px;color:#9e9e9e;transform:scaleX(1.0031);">76</span><span class="t" style="left:3278.72px;top:1967.00px;font-size:16.61px;color:#9e9e9e;transform:scaleX(0.9985);">53</span><span class="t" style="left:3421.20px;top:1967.00px;font-size:16.61px;color:#9e9e9e;transform:scaleX(1.0031);">76</span><span class="t" style="left:2827.67px;top:2024.00px;font-size:16.61px;color:#9e9e9e;transform:scaleX(1.0066);">16981</span><span class="t" style="left:2986.05px;top:2024.00px;font-size:16.61px;color:#9e9e9e;transform:scaleX(0.9877);">8493</span><span class="t" style="left:3126.82px;top:2024.00px;font-size:16.61px;color:#9e9e9e;transform:scaleX(0.9974);">58</span><span class="t" style="left:3278.24px;top:2024.00px;font-size:16.61px;color:#9e9e9e;transform:scaleX(1.0321);">12</span><span class="t" style="left:3421.12px;top:2024.00px;font-size:16.61px;color:#9e9e9e;transform:scaleX(0.9974);">58</span><span class="t" style="left:2818.57px;top:2082.00px;font-size:16.61px;color:#9e9e9e;transform:scaleX(0.9995);">179631</span><span class="t" style="left:2986.05px;top:2082.00px;font-size:16.61px;color:#9e9e9e;transform:scaleX(0.9896);">8442</span><span class="t" style="left:3126.90px;top:2082.00px;font-size:16.61px;color:#9e9e9e;transform:scaleX(1.0031);">76</span><span class="t" style="left:3280.13px;top:2082.00px;font-size:16.61px;color:#9e9e9e;transform:scaleX(0.8184);font-style:italic;">/</span><span class="t" style="left:3421.20px;top:2082.00px;font-size:16.61px;color:#9e9e9e;transform:scaleX(1.0031);">76</span><span class="t" style="left:2827.67px;top:2139.00px;font-size:16.61px;color:#9e9e9e;transform:scaleX(1.0031);">16735</span><span class="t" style="left:2986.01px;top:2139.00px;font-size:16.61px;color:#9e9e9e;transform:scaleX(0.9906);">3989</span><span class="t" style="left:3126.91px;top:2139.00px;font-size:16.61px;color:#9e9e9e;transform:scaleX(0.9711);">74</span><span class="t" style="left:3279.19px;top:2139.00px;font-size:16.61px;color:#9e9e9e;transform:scaleX(0.9350);">4</span><span class="t" style="left:3421.21px;top:2139.00px;font-size:16.61px;color:#9e9e9e;transform:scaleX(0.9711);">74</span><span class="t" style="left:2827.67px;top:2197.00px;font-size:16.61px;color:#9e9e9e;transform:scaleX(1.0031);">14245</span><span class="t" style="left:2985.47px;top:2197.00px;font-size:16.61px;color:#9e9e9e;transform:scaleX(1.0095);">1326</span><span class="t" style="left:3117.81px;top:2197.00px;font-size:16.61px;color:#9e9e9e;transform:scaleX(0.9932);">242</span><span class="t" style="left:3278.72px;top:2197.00px;font-size:16.61px;color:#9e9e9e;transform:scaleX(1.0171);">51</span><span class="t" style="left:3412.11px;top:2197.00px;font-size:16.61px;color:#9e9e9e;transform:scaleX(0.9932);">242</span><span class="t" style="left:2827.67px;top:2254.00px;font-size:16.61px;color:#9e9e9e;transform:scaleX(1.0066);">13631</span><span class="t" style="left:2986.05px;top:2254.00px;font-size:16.61px;color:#9e9e9e;transform:scaleX(0.9877);">8676</span><span class="t" style="left:3135.92px;top:2254.00px;font-size:16.61px;color:#9e9e9e;transform:scaleX(1.0267);">5</span><span class="t" style="left:3278.24px;top:2254.00px;font-size:16.61px;color:#9e9e9e;transform:scaleX(1.0321);">12</span><span class="t" style="left:3430.22px;top:2254.00px;font-size:16.61px;color:#9e9e9e;transform:scaleX(1.0267);">5</span>
</div>
<div class="L">
<div class="b" style="left:3214.00px;top:127.40px;width:606.00px;height:584.40px;background:#fff;border-radius:13px;box-shadow:0 10px 22px -4px rgba(40,30,20,0.24),0 1px 3px rgba(40,30,20,0.09);"></div><div class="b" style="left:3214.00px;top:127.40px;width:606.00px;height:122.30px;background:#f4f4f4;border-radius:13px 13px 0 0;"></div><div class="b" style="left:3248.30px;top:289.20px;width:46.40px;height:46.30px;background:#00a4ff;border-radius:6px;"></div><div class="b" style="left:3248.30px;top:375.30px;width:46.40px;height:45.30px;background:#fafafa;border:2px solid #e3e3e3;border-radius:6px;box-sizing:border-box;"></div><div class="b" style="left:3248.30px;top:461.00px;width:46.40px;height:45.30px;background:#fafafa;border:2px solid #e3e3e3;border-radius:6px;box-sizing:border-box;"></div><div class="b" style="left:3248.30px;top:546.50px;width:46.40px;height:45.30px;background:#fafafa;border:2px solid #e3e3e3;border-radius:6px;box-sizing:border-box;"></div><div class="b" style="left:3248.30px;top:632.20px;width:46.40px;height:45.30px;background:#fafafa;border:2px solid #e3e3e3;border-radius:6px;box-sizing:border-box;"></div>
<svg class="s" width="4062" height="2564" viewBox="0 0 4062 2564"><circle cx="3269.3" cy="187.3" r="8.6" fill="none" stroke="#9a9a9a" stroke-width="2"/><path d="M3275.6 193.6 L3284.6 202.4" stroke="#9a9a9a" stroke-width="2.2" stroke-linecap="butt"/><path d="M3258 312.5 L3267.5 322 L3284.5 302.5" fill="none" stroke="#fff" stroke-width="6.2"/></svg>
<span class="t" style="left:3302.00px;top:175.00px;font-size:30.62px;color:#7b7b7b;transform:scaleX(0.9389);-webkit-text-stroke:0.5px #7b7b7b;font-style:italic;">Search for channels ...</span><span class="t" style="left:3315.16px;top:296.00px;font-size:36.85px;color:#00a2ff;transform:scaleX(1.0000);-webkit-text-stroke:1.2px #00a2ff;letter-spacing:-0.11px;">All channels</span><span class="t" style="left:3313.69px;top:381.00px;font-size:36.85px;color:#333333;transform:scaleX(0.9775);">Corporate News</span><span class="t" style="left:3313.71px;top:467.00px;font-size:36.85px;color:#333333;transform:scaleX(0.9585);">CEO Announcements</span><span class="t" style="left:3315.17px;top:552.00px;font-size:36.85px;color:#333333;transform:scaleX(0.9617);">Acknowledge</span><span class="t" style="left:3313.77px;top:638.00px;font-size:36.85px;color:#333333;transform:scaleX(0.9754);">Office Updates</span>
</div>
<div class="L">
<div class="b" style="left:3130.00px;top:995.70px;width:802.00px;height:683.60px;background:#fff;border-radius:4px 4px 13px 13px;box-shadow:0 8px 17px -3px rgba(40,30,20,0.24),0 1px 3px rgba(40,30,20,0.09);"></div><div class="b" style="left:3130.00px;top:995.70px;width:802.00px;height:16.30px;background:#00a4ff;border-radius:4px 4px 0 0;"></div>
<svg class="s" width="4062" height="2564" viewBox="0 0 4062 2564"><defs><filter id="sh" x="-30%" y="-30%" width="160%" height="160%"><feGaussianBlur stdDeviation="7"/></filter><clipPath id="cp"><ellipse cx="3525" cy="1262" rx="141" ry="136"/></clipPath></defs><ellipse cx="3525" cy="1262" rx="141" ry="136" fill="#00a4ff"/><path d="M3522.6 1262 L3522.6 1120 L3607.9 1080.0 Z" fill="#ececec" clip-path="url(#cp)"/><g clip-path="url(#cp)"><ellipse cx="3527" cy="1273" rx="108" ry="105" fill="#005a9a" opacity="0.45" filter="url(#sh)"/></g><ellipse cx="3522.4" cy="1267" rx="108.8" ry="106" fill="#fff"/><g fill="none" stroke="#333" stroke-width="5" stroke-linejoin="round" stroke-linecap="round"><path d="M3490 1228 H3528 a16.3 16.3 0 0 1 16.3 16.3 V1257.2 a16.3 16.3 0 0 1 -16.3 16.3 H3511.5 L3493.2 1289.5 L3494.2 1273.5 H3490 a16.3 16.3 0 0 1 -16.3 -16.3 V1244.3 a16.3 16.3 0 0 1 16.3 -16.3 Z"/><path d="M3552.5 1268.2 a11.5 11.5 0 0 1 11.3 11.5 V1286 a11.5 11.5 0 0 1 -11.5 11.5 H3551.5 L3551.8 1309 L3538.5 1297.5 H3529 a11.5 11.5 0 0 1 -11.6 -10"/></g></svg><svg class="s" width="4062" height="2564" viewBox="0 0 4062 2564"><circle cx="3518.2" cy="1322.5" r="10" fill="none" stroke="#d2d2d2" stroke-width="1.3"/><path d="M3515.31 1320.06 a2.7 2.7 0 1 1 4.33 2.44 q-1.3 0.9 -1.3 2.4" transform="" fill="none" stroke="#d2d2d2" stroke-width="1.2" stroke-linecap="round"/><circle cx="3518.2" cy="1327.61" r="0.8" fill="#d2d2d2"/></svg>
<span class="t" style="left:3401.49px;top:1430.00px;font-size:59.69px;color:#333333;transform:scaleX(1.0000);font-weight:700;letter-spacing:2.87px;">99.5 %</span><span class="t" style="left:3396.67px;top:1516.00px;font-size:29.58px;color:#333333;transform:scaleX(1.0000);letter-spacing:0.75px;">of your posts have</span><span class="t" style="left:3403.15px;top:1555.00px;font-size:29.58px;color:#333333;transform:scaleX(1.0000);letter-spacing:0.96px;">user interactions.</span><span class="t" style="left:3372.61px;top:1599.00px;font-size:20.76px;color:#333333;transform:scaleX(0.9993);font-weight:700;">More tips on our Blog</span>
</div>
<div class="L">
<div class="b" style="left:2270.00px;top:1915.50px;width:478.80px;height:522.10px;background:#fff;border-radius:14px;box-shadow:0 7px 13px -3px rgba(40,30,20,0.24),0 1px 4px rgba(40,30,20,0.12);"></div><div class="b" style="left:2270.00px;top:2172.00px;width:478.80px;height:115.60px;background:#00a4ff;"></div>
<span class="t" style="left:2344.06px;top:1974.00px;font-size:48.27px;color:#333333;transform:scaleX(1.0000);-webkit-text-stroke:1.6px #333333;letter-spacing:1.82px;filter:blur(0.6px);">All platforms</span><span class="t" style="left:2340.59px;top:2090.00px;font-size:48.27px;color:#333333;transform:scaleX(0.9415);filter:blur(0.6px);">iOS</span><span class="t" style="left:2341.90px;top:2207.00px;font-size:48.27px;color:#ffffff;transform:scaleX(1.0000);-webkit-text-stroke:1.6px #ffffff;letter-spacing:2.65px;filter:blur(0.6px);">Android</span><span class="t" style="left:2343.09px;top:2322.00px;font-size:48.27px;color:#333333;transform:scaleX(0.9831);filter:blur(0.6px);">Web</span>
</div>
</body></html>
